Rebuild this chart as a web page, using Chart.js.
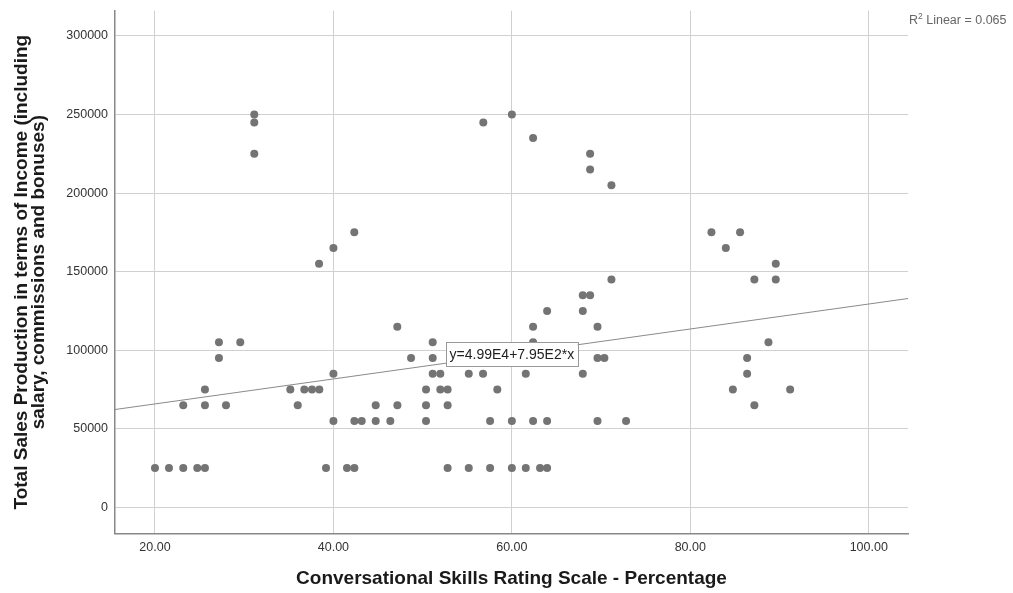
<!DOCTYPE html>
<html>
<head>
<meta charset="utf-8">
<script src="https://cdn.jsdelivr.net/npm/chart.js@4/dist/chart.umd.min.js"></script>
<style>
  html, body { margin: 0; padding: 0; background: #fff; }
  #scatter { display: block; }
</style>
</head>
<body>
<canvas id="scatter" width="1013" height="593"></canvas>
<script>
// ---- data ----
const ratingPct = [
  31.13, 31.13, 31.13, 42.34, 40.0, 38.39, 47.16, 48.7, 27.17, 29.56,
  27.17, 40.0, 25.6, 23.17, 25.6, 27.96, 35.17, 36.74, 37.6, 38.42,
  36.0, 40.0, 42.35, 43.17, 44.74, 46.38, 44.74, 47.17, 20.0, 21.57,
  23.17, 24.74, 25.6, 39.17, 41.52, 42.35, 56.8, 60.0, 62.38, 68.77,
  68.77, 71.16, 71.16, 67.95, 68.77, 63.95, 67.95, 62.38, 69.6, 62.38,
  51.13, 51.13, 69.6, 70.37, 51.13, 51.98, 55.17, 56.77, 61.56, 67.95,
  50.38, 51.98, 52.8, 58.37, 50.38, 52.8, 50.38, 57.56, 60.0, 62.38,
  63.95, 69.6, 72.8, 52.8, 55.17, 57.56, 60.0, 61.56, 63.16, 63.95,
  82.37, 85.58, 83.98, 89.58, 87.18, 89.58, 88.76, 86.37, 86.37, 84.77,
  91.19, 87.18
];
const salesIncome = [
  250000, 245000, 225000, 175000, 165000, 155000, 115000, 95000, 105000, 105000,
  95000, 85000, 75000, 65000, 65000, 65000, 75000, 75000, 75000, 75000,
  65000, 55000, 55000, 55000, 55000, 55000, 65000, 65000, 25000, 25000,
  25000, 25000, 25000, 25000, 25000, 25000, 245000, 250000, 235000, 225000,
  215000, 205000, 145000, 135000, 135000, 125000, 125000, 115000, 115000, 105000,
  105000, 95000, 95000, 95000, 85000, 85000, 85000, 85000, 85000, 85000,
  75000, 75000, 75000, 75000, 65000, 65000, 55000, 55000, 55000, 55000,
  55000, 55000, 55000, 25000, 25000, 25000, 25000, 25000, 25000, 25000,
  175000, 175000, 165000, 155000, 145000, 145000, 105000, 95000, 85000, 75000,
  75000, 65000
];
const xTickValues = [20, 40, 60, 80, 100];
const yTickValues = [0, 50000, 100000, 150000, 200000, 250000, 300000];
const xRange = [15.52, 104.4];
const yRange = [-16800, 316100];

// fit line reported on the chart
const fitIntercept = 49900;
const fitSlope = 795;
const fitLabel = "y=4.99E4+7.95E2*x";
const fitLabelAt = [60, 97500];
const r2Text = " Linear = 0.065";

const points = ratingPct.map((x, i) => ({ x, y: salesIncome[i] }));
const fitLine = xRange.map((x) => ({ x, y: fitIntercept + fitSlope * x }));

const FONT = "'Liberation Sans', Arial, sans-serif";

const annotations = {
  id: "annotations",
  afterDatasetsDraw(chart) {
    const { ctx, scales } = chart;
    ctx.save();
    // equation box
    ctx.font = `14px ${FONT}`;
    const w = ctx.measureText(fitLabel).width + 7;
    const h = 24;
    const cx = scales.x.getPixelForValue(fitLabelAt[0]);
    const cy = scales.y.getPixelForValue(fitLabelAt[1]);
    ctx.fillStyle = "#fff";
    ctx.fillRect(cx - w / 2, cy - h / 2, w, h);
    ctx.strokeStyle = "#999";
    ctx.lineWidth = 1;
    ctx.strokeRect(Math.round(cx - w / 2) + 0.5, Math.round(cy - h / 2) + 0.5, Math.round(w), h);
    ctx.fillStyle = "#222";
    ctx.textAlign = "center";
    ctx.textBaseline = "middle";
    ctx.fillText(fitLabel, cx, cy + 1);

    // R squared note, top right
    ctx.textAlign = "left";
    ctx.textBaseline = "alphabetic";
    ctx.fillStyle = "#666";
    let x0 = chart.chartArea.right + 1;
    ctx.font = `12.5px ${FONT}`;
    ctx.fillText("R", x0, 24);
    x0 += ctx.measureText("R").width;
    ctx.font = `8.5px ${FONT}`;
    ctx.fillText("2", x0, 19);
    x0 += ctx.measureText("2").width;
    ctx.font = `12.5px ${FONT}`;
    ctx.fillText(r2Text, x0, 24);
    ctx.restore();
  },
};

new Chart(document.getElementById("scatter"), {
  type: "scatter",
  data: {
    datasets: [
      {
        data: points,
        pointRadius: 4,
        pointHoverRadius: 4,
        backgroundColor: "#747474",
        borderWidth: 0,
        order: 1,
      },
      {
        type: "line",
        data: fitLine,
        borderColor: "#8a8a8a",
        borderWidth: 1,
        pointRadius: 0,
        fill: false,
        order: 2,
      },
    ],
  },
  options: {
    responsive: false,
    animation: false,
    layout: { padding: { top: 10.7, right: 105, left: 0, bottom: 0 } },
    plugins: { legend: { display: false }, tooltip: { enabled: false } },
    scales: {
      x: {
        type: "linear",
        min: xRange[0],
        max: xRange[1],
        afterBuildTicks: (s) => { s.ticks = xTickValues.map((v) => ({ value: v })); },
        afterFit: (s) => { s.height = 59.3; },
        grid: { color: "#d0d0d0", lineWidth: 1, drawTicks: false },
        border: { color: "#888", width: 1.5 },
        ticks: {
          padding: 6,
          color: "#333",
          font: { family: FONT, size: 12.5 },
          callback: (v) => Number(v).toFixed(2),
        },
        title: {
          display: true,
          text: "Conversational Skills Rating Scale - Percentage",
          color: "#1a1a1a",
          font: { family: FONT, size: 19, weight: "bold", lineHeight: 1.2 },
          padding: { top: 0, bottom: 2.5 },
        },
      },
      y: {
        type: "linear",
        min: yRange[0],
        max: yRange[1],
        afterBuildTicks: (s) => { s.ticks = yTickValues.map((v) => ({ value: v })); },
        afterFit: (s) => {
          s.width = 115;
          s.paddingTop = 0;
          s.paddingBottom = 0;
        },
        grid: { color: "#d0d0d0", lineWidth: 1, drawTicks: false },
        border: { color: "#888", width: 1.5 },
        ticks: {
          padding: 7,
          color: "#333",
          font: { family: FONT, size: 12.5 },
          callback: (v) => String(v),
        },
        title: {
          display: true,
          text: ["Total Sales Production in terms of Income (including", "salary, commissions and bonuses)"],
          color: "#1a1a1a",
          font: { family: FONT, size: 19, weight: "bold", lineHeight: 0.92 },
          padding: { top: 13, bottom: 0 },
        },
      },
    },
  },
  plugins: [annotations],
});
</script>
</body>
</html>
